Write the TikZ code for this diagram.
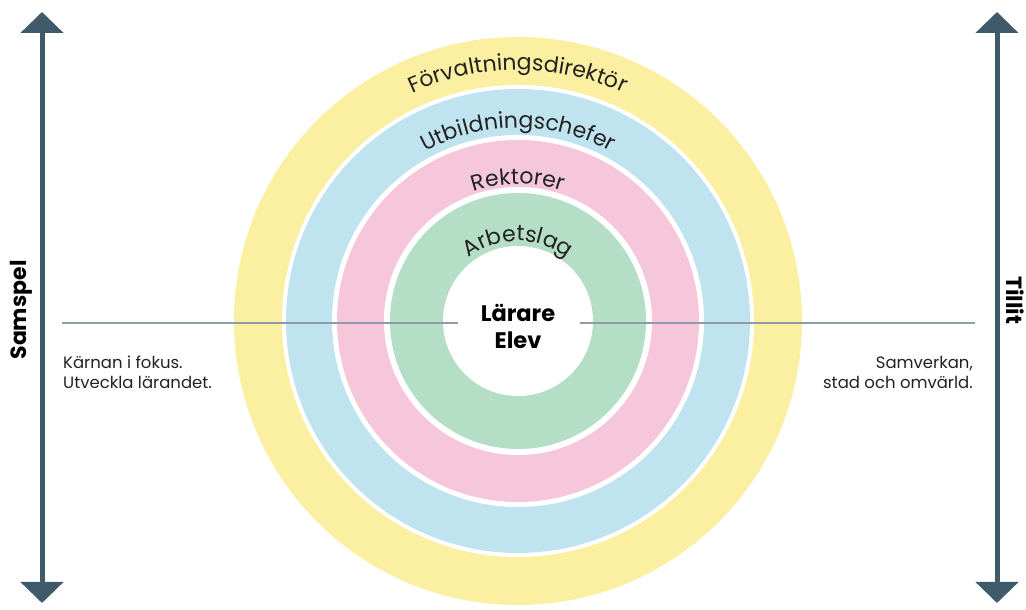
\documentclass[tikz,border=0pt]{standalone}
\usepackage{fontspec}
\setmainfont{Poppins}
\usepackage{tikz}
\usetikzlibrary{arrows.meta, positioning, decorations.text}
\definecolor{ringyellow}{HTML}{FBF0A2}
\definecolor{ringblue}{HTML}{C0E3F0}
\definecolor{ringpink}{HTML}{F6C7DA}
\definecolor{ringgreen}{HTML}{B4DEC6}
\definecolor{axisgray}{HTML}{3F5A6A}
\definecolor{linegray}{HTML}{8E9CA7}
\definecolor{textgray}{HTML}{222222}
\tikzset{%
	axis/.style={line width=5pt, draw=axisgray,%
		{Triangle[width=42pt,length=21pt]}-{Triangle[width=42pt,length=21pt]}},
	divider/.style={line width=1.6pt, draw=linegray},
	side/.style={font=\fontsize{16.5}{20}\selectfont, text=textgray, inner sep=0pt},
	core/.style={font=\bfseries\fontsize{22.5}{27}\selectfont, align=center, text=black},
	axislabel/.style={font=\bfseries\fontsize{22}{22}\selectfont, text=black}
}

\begin{document}
\begin{tikzpicture}[x=1pt, y=1pt]
	\useasboundingbox (0,0) rectangle (1026,610);
	\coordinate (c) at (518,289);
	% rings
	\foreach \r/\col in {284/ringyellow, 236/white, 232/ringblue, 186/white,%
		181/ringpink, 134/white, 128/ringgreen, 75/white}
		\fill[\col] (c) circle[radius=\r pt];
	\path[decorate, decoration={text along path, text align=center, text color=textgray,
		text={|\fontsize{22}{22}\selectfont|Förvaltningsdirektör}}]
		([shift={(180:251pt)}]c) arc[start angle=180, end angle=0, radius=251pt];
	\path[decorate, decoration={text along path, text align=center, text color=textgray,
		text={|\fontsize{22}{22}\selectfont|Utbildningschefer}}]
		([shift={(180:193pt)}]c) arc[start angle=180, end angle=0, radius=193pt];
	\path[decorate, decoration={text along path, text align=center, text color=textgray,
		text={|\fontsize{22}{22}\selectfont|Rektorer}}]
		([shift={(180:137pt)}]c) arc[start angle=180, end angle=0, radius=137pt];
	\path[decorate, decoration={text along path, text align=center, text color=textgray,
		text={|\fontsize{22}{22}\selectfont|Arbetslag}}]
		([shift={(180:80pt)}]c) arc[start angle=180, end angle=0, radius=80pt];
	\node[core] (core) at (518,284) {Lärare\\Elev};
	% side axes
	\coordinate (l-top) at (42,598);
	\coordinate (l-bot) at (42,7);
	\coordinate (r-top) at (997,598);
	\coordinate (r-bot) at (997,7);
	\draw[axis] (l-bot) -- (l-top);
	\draw[axis] (r-bot) -- (r-top);
	\node[axislabel, rotate=90] (samspel) at (21,300) {Samspel};
	\node[axislabel, rotate=-90] (tillit) at (1015,310) {Tillit};
	% dividers
	\coordinate (dl-a) at (62,287);
	\coordinate (dl-b) at (458,287);
	\coordinate (dr-a) at (580,287);
	\coordinate (dr-b) at (975,287);
	\draw[divider] (dl-a) -- (dl-b);
	\draw[divider] (dr-a) -- (dr-b);
	\node[side, align=left, anchor=north west] (focus) at (63,254) {Kärnan i fokus.\\Utveckla lärandet.};
	\node[side, align=right, anchor=north east] (samverkan) at (973,254) {Samverkan,\\stad och omvärld.};
\end{tikzpicture}
\end{document}
